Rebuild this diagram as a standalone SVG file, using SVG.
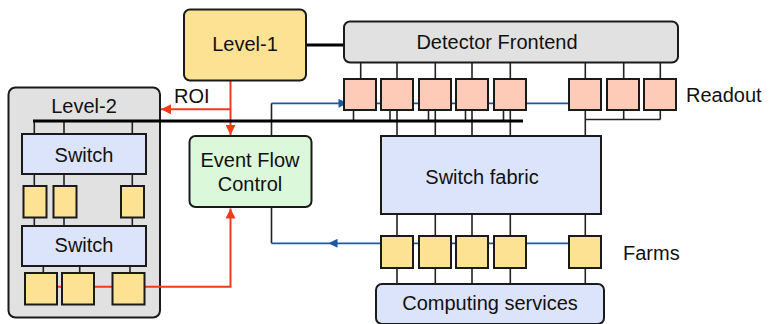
<svg xmlns="http://www.w3.org/2000/svg" width="769" height="324" viewBox="0 0 769 324">
  <style>
    text { font-family: "Liberation Sans", Arial, sans-serif; fill: #111; text-anchor: middle; dominant-baseline: central; }
    .big { font-size: 20px; }
    .lbl { font-size: 20px; text-anchor: start; }
    .box { stroke: #1a1a1a; stroke-width: 2; }
    .yel { fill: #fde294; }
    .peach { fill: #fdcbb7; }
    .blu { fill: #dbe4fb; }
    .gry { fill: #e1e1e1; }
    .grn { fill: #dcf8da; }
    .wire { stroke: #222; stroke-width: 1.6; fill: none; }
    .bus { stroke: #000; stroke-width: 3.2; fill: none; }
    .red { stroke: #f43a1c; stroke-width: 2; fill: none; }
    .blue { stroke: #1d58a2; stroke-width: 1.8; fill: none; }
  </style>
  <defs>
    <marker id="ah-red" viewBox="0 0 10 10" refX="10" refY="5" markerWidth="5" markerHeight="5" orient="auto" markerUnits="strokeWidth">
      <path d="M0,0 L10,5 L0,10 z" fill="#f43a1c"/>
    </marker>
    <marker id="ah-blue" viewBox="0 0 10 10" refX="5" refY="5" markerWidth="6" markerHeight="5" orient="auto" markerUnits="strokeWidth">
      <path d="M0,0 L10,5 L0,10 z" fill="#1d58a2"/>
    </marker>
  </defs>

  <!-- Level-2 container (drawn first so its contents sit on top) -->
  <g id="level2">
    <rect x="8.5" y="87.5" width="151.5" height="230" rx="7" class="box gry"/>
    <text x="84" y="106" class="big">Level-2</text>
  </g>

  <!-- connectors -->
  <g id="connectors">
    <!-- Level-1 to Detector Frontend -->
    <line x1="306" y1="45" x2="344" y2="45" class="bus"/>
    <!-- Detector Frontend to readout boxes -->
    <path class="wire" d="M360.7,62 V79 M397,62 V79 M435.3,62 V79 M472,62 V79 M510.3,62 V79 M585.3,62 V79 M623.7,62 V79 M660.3,62 V79"/>
    <!-- readout to the level-2 bus -->
    <path class="wire" d="M353.5,110 V121 M390,110 V121 M428.5,110 V121 M465.5,110 V121 M503.5,110 V121"/>
    <!-- readout to switch fabric -->
    <path class="wire" d="M397,110 V136 M435.3,110 V136 M472,110 V136 M510.3,110 V136 M585.3,110 V136"/>
    <path class="wire" d="M585.3,119.5 H660.3 M623.7,110 V119.5 M660.3,110 V119.5"/>
    <!-- switch fabric to farms, farms to computing services -->
    <path class="wire" d="M397,214 V236 M435.3,214 V236 M472,214 V236 M510.3,214 V236 M585.3,214 V236"/>
    <path class="wire" d="M397,268 V284 M435.3,268 V284 M472,268 V284 M510.3,268 V284 M585.3,268 V284"/>
    <!-- level-2 internal links -->
    <path class="wire" d="M34.3,121 V134 M64,121 V134 M132.3,121 V134"/>
    <path class="wire" d="M34.3,174 V186 M64,174 V186 M132.3,174 V186"/>
    <path class="wire" d="M34.3,217.5 V226 M64,217.5 V226 M132.3,217.5 V226"/>
    <path class="wire" d="M43.3,266 V273 M79.7,266 V273 M130,266 V273"/>
    <!-- event flow control stubs -->
    <path class="wire" d="M271.5,103.3 V136 M271.5,207 V243.3"/>
    <!-- blue data-flow lines -->
    <path class="blue" d="M271.5,103.3 H343" marker-end="url(#ah-blue)"/>
    <path class="blue" d="M343,103.3 H570"/>
    <path class="blue" d="M585,243.3 H333" marker-end="url(#ah-blue)"/>
    <path class="blue" d="M333,243.3 H271.5"/>
    <!-- red trigger lines -->
    <path class="red" d="M230.5,81 V135" marker-end="url(#ah-red)"/>
    <path class="red" d="M230.5,109.3 H161" marker-end="url(#ah-red)"/>
    <path class="red" d="M41,286.7 H230.5 V208.5" marker-end="url(#ah-red)"/>
    <!-- thick bus -->
    <line x1="33" y1="121" x2="523" y2="121" class="bus"/>
  </g>

  <g id="level1">
    <rect x="184" y="9.5" width="122" height="71" rx="6" class="box yel"/>
    <text x="245" y="43.5" class="big">Level-1</text>
  </g>

  <g id="roi-label">
    <text x="174" y="96" class="lbl">ROI</text>
  </g>

  <g id="detector-frontend">
    <rect x="344" y="21.5" width="334" height="41" rx="6" class="box gry"/>
    <text x="497" y="42" class="big">Detector Frontend</text>
  </g>

  <g id="readout">
    <rect x="344" y="79" width="32" height="31" class="box peach"/>
    <rect x="381" y="79" width="32" height="31" class="box peach"/>
    <rect x="419" y="79" width="32" height="31" class="box peach"/>
    <rect x="456" y="79" width="32" height="31" class="box peach"/>
    <rect x="494" y="79" width="32" height="31" class="box peach"/>
    <rect x="569" y="79" width="32" height="31" class="box peach"/>
    <rect x="607" y="79" width="32" height="31" class="box peach"/>
    <rect x="644" y="79" width="32" height="31" class="box peach"/>
    <text x="686" y="95" class="lbl">Readout</text>
  </g>

  <g id="event-flow-control">
    <rect x="189.5" y="136" width="122" height="71" rx="6" class="box grn"/>
    <text x="250" y="160" class="big">Event Flow</text>
    <text x="250" y="184" class="big">Control</text>
  </g>

  <g id="switch-fabric">
    <rect x="381" y="136" width="220" height="78" class="box blu"/>
    <text x="482" y="177" class="big">Switch fabric</text>
  </g>

  <g id="farms">
    <rect x="381" y="236" width="32" height="32" class="box yel"/>
    <rect x="419" y="236" width="32" height="32" class="box yel"/>
    <rect x="456" y="236" width="32" height="32" class="box yel"/>
    <rect x="494" y="236" width="32" height="32" class="box yel"/>
    <rect x="569" y="236" width="32" height="32" class="box yel"/>
    <text x="623" y="253" class="lbl">Farms</text>
  </g>

  <g id="computing-services">
    <rect x="376" y="284" width="228" height="40" rx="6" class="box blu"/>
    <text x="490" y="303" class="big">Computing services</text>
  </g>

  <g id="switch1">
    <rect x="22" y="134" width="124" height="40" class="box blu"/>
    <text x="84" y="155" class="big">Switch</text>
  </g>

  <g id="level2-buffers">
    <rect x="23.5" y="186" width="23" height="31.5" class="box yel"/>
    <rect x="53.5" y="186" width="23" height="31.5" class="box yel"/>
    <rect x="121" y="186" width="23" height="31.5" class="box yel"/>
  </g>

  <g id="switch2">
    <rect x="22" y="226" width="124" height="40" class="box blu"/>
    <text x="84" y="245" class="big">Switch</text>
  </g>

  <g id="level2-processors">
    <rect x="25" y="273" width="32" height="31.5" class="box yel"/>
    <rect x="62" y="273" width="32" height="31.5" class="box yel"/>
    <rect x="112.5" y="273" width="32" height="31.5" class="box yel"/>
  </g>
</svg>
